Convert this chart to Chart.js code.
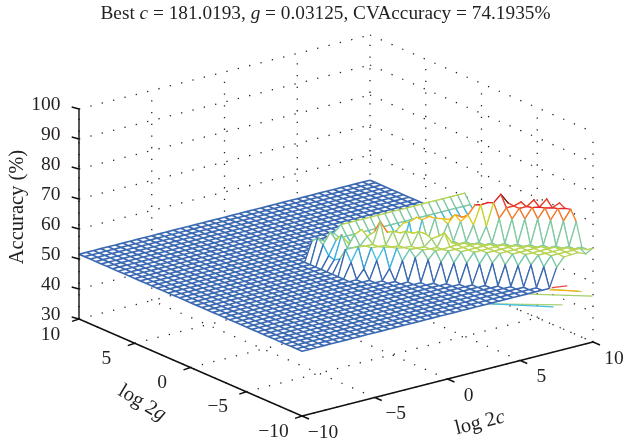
<!DOCTYPE html>
<html><head><meta charset="utf-8">
<script src="https://cdn.jsdelivr.net/npm/chart.js@4/dist/chart.umd.min.js"></script>
<style>html,body{margin:0;padding:0;background:#fff;overflow:hidden}canvas{display:block}</style>
</head><body><canvas id="c" width="624" height="443"></canvas>
<script>
// ---- axis ticks ----
const cTicks=[-10,-5,0,5,10];
const gTicks=[-10,-5,0,5,10];
const zTicks=[30,40,50,60,70,80,90,100];
const zLabelsText=["30","40","50","60","70","80","90","100"];
// ---- surface readings (accuracy %), one list per diagonal log2c+log2g, running along log2c ----
const floorLevel=51.6;
const plateauLevel=55.5;
const dM25=[56.5,54.5,57.5,55,57.8,59,58.5,58,57.9,58,57.9,58.4,58,57.9,58.4,57.9,58];
const dM20=[60,61,61,61.3,61.2,61,61,61,61,61,61,61,61,61,61,61,61,60.8];
const dM15=[56,60,60.8,60.8,60.8,60.8,60.8,60.8,60.8,61,61,61,61,61,61,61,61,61,61];
const dM10=[55,59,60,60.6,60.6,60.6,60.6,60.6,60.6,61,61,61,61,61,61,61,61,61,61,61];
const dM05=[55.5,62.7,62.9,62.5,67.7,64.6,64.8,64.9,62.7,64.9,61.1,61,61,61,61,61,61,61,61,61,60];
const d00=[58.3,60,59,64,63.5,63.5,63.5,63.5,63.5,63,61,61,61,61,61,61,61,61,61,61,61,61.3];
const d05=[59.8,62,59,58,57,57,57,57,57,57,59,60,60,60,60,60,60,60,60,60,60,60];
const d10=[58,58,58,58,56.5,56.5,56.5,56.5,56.5,60,60,60,60,60,60,60,60,60,60,60,60,60];
const d15=[57,58,56,56,56,56,62,65,66,66.7,65,66,65,64.7,67.6,67.6,67.8,68,67.8,67.7,67.7];
const d20=[57,58,56,56,56,56,64,66,66.5,66,67.5,67.5,71.1,72,70.5,70.5,71,71,71,71];
const d25=[58.8,58,56,56,56,56,60,62,63,65,66,70.3,71.3,74.19,70.5,70.5,70.5,70.5,70.5,71];
const d30=[70.7,71.2,72.1,72.6,71.5];
const rowG15=[61,61,61,61,61,61,61,61,61,61,61,61,61,61,61,61,61,61];
const rowG10=[58,58,58,58,58,58,58,58,58,58,58,58,58,58,58,58,58];
// stray edge segments at the surface's lower right: [c0,z0,c1,z1]
const strayRed=[7.2,51.6,8.2,50.9];
const strayOrange=[7.05,51,9,48.2];
const strayLime=[7.1,51.2,9.2,47.8];
const strayGreen=[5.67,51.3,9.93,45.4];
const strayTeal=[2.92,51.4,7.87,45];
const strayCyan=[3.06,51.3,7.25,45.1];
// colour ramp: accuracy → colour
const rampLevels=[51.6,53,55,57.5,58,60.4,60.8,64.9,65.2,67,67.6,70,71,73.5,74.2];
const rampColors=["#3c6ab2","#3c6ab2","#3fb0de","#50c4dc","#82c9a2","#82c9a2","#b6d455","#c4d52f","#fac21b","#f9b91d","#f47b28","#ef5b2a","#e2262a","#d8202a","#6e1a1c"];

// ---- projection ----
const ox=302,oy=416,cx=14.55,cy=-3.7,gx=-11.15,gy=-4.85,zs=-3;
const P=(c,g,z)=>({x:ox+(c+10)*cx+(g+10)*gx,y:oy+(c+10)*cy+(g+10)*gy+(z-30)*zs});
const BR={x:null,y:null};
const diagTable=[[-2.5,-0.5,dM25],[-2,-0.5,dM20],[-1.5,-0.5,dM15],[-1,-0.5,dM10],[-0.5,-0.5,dM05],[0,-0.5,d00],[0.5,-0.5,d05],[1,-0.5,d10],[1.5,0,d15],[2,0.5,d20],[2.5,1,d25]];
function Z(c,g){
  if(g>1.5||c<-0.5) return floorLevel;
  const d=c+g;
  if(d<-2.5) return floorLevel;
  if(g===1.5&&c>=1.5) return rowG15[(c-1.5)*2];
  if(g===1&&c>=2) return rowG10[(c-2)*2];
  if(d<=2.5){const t=diagTable[(d+2.5)*2];return t[2][(c-t[1])*2];}
  if(d===3&&c>=8) return d30[(c-8)*2];
  return plateauLevel;
}
function hex(h){return [1,3,5].map(i=>parseInt(h.substr(i,2),16));}
function colorOf(z){
  if(z<=rampLevels[0]) return rampColors[0];
  for(let i=1;i<rampLevels.length;i++){
    if(z<=rampLevels[i]){
      const t=(z-rampLevels[i-1])/(rampLevels[i]-rampLevels[i-1]),a=hex(rampColors[i-1]),b=hex(rampColors[i]);
      return `rgb(${a.map((v,k)=>Math.round(v+(b[k]-v)*t)).join(",")})`;
    }
  }
  return rampColors[rampColors.length-1];
}
const base={type:'scatter',showLine:true,pointRadius:0,pointHoverRadius:0,fill:false,tension:0,spanGaps:false,clip:false,borderCapStyle:'round',borderJoinStyle:'round'};
const datasets=[];
let ord=100000;
const add=o=>{datasets.push(Object.assign({},base,o,{order:ord--}));};

// background dotted box
const dots=[];
const seg=(a,b)=>{dots.push(a,b,BR);};
const hi=100,lo=30;
zTicks.forEach(z=>{seg(P(-10,10,z),P(10,10,z));seg(P(10,10,z),P(10,-10,z));});
cTicks.forEach(c=>{seg(P(c,10,lo),P(c,10,hi));seg(P(c,-10,lo),P(c,10,lo));});
gTicks.forEach(g=>{seg(P(10,g,lo),P(10,g,hi));seg(P(-10,g,lo),P(10,g,lo));});
add({data:dots,borderColor:'#222',borderWidth:1.3,borderDash:[1.3,10.4],borderCapStyle:'butt'});

// stray segments
[[strayGreen,"#a5d06a"],[strayTeal,"#a6d27c"],[strayCyan,"#45bfe0"],[strayLime,"#b7d565"],[strayOrange,"#f7b21f"],[strayRed,"#ee4a42"]].forEach(([s,col])=>{
  add({data:[P(s[0],-10,s[1]),P(s[2],-10,s[3])],borderColor:col,borderWidth:1.3});
});

// flat floor of the surface
const outline=[[-10,-10],[7,-10],[-0.5,-2.5],[-1,-2],[-1,2],[10,2],[10,10],[-10,10],[-10,-10]].map(p=>P(p[0],p[1],floorLevel));
const steps=[];for(let i=0;i<=40;i++)steps.push(-10+i*0.5);
const planeLines=[];
const flat=(c,g)=>Z(c,g)===floorLevel;
steps.forEach(c=>{for(let j=0;j<40;j++){const g=steps[j],g2=steps[j+1];if(flat(c,g)&&flat(c,g2)){planeLines.push(P(c,g,floorLevel),P(c,g2,floorLevel),BR);}}});
steps.forEach(g=>{for(let i=0;i<40;i++){const c=steps[i],c2=steps[i+1];if(flat(c,g)&&flat(c2,g)){planeLines.push(P(c,g,floorLevel),P(c2,g,floorLevel),BR);}}});
add({data:outline,borderColor:'rgba(0,0,0,0)',borderWidth:0,face:true});
add({data:planeLines,borderColor:rampColors[0],borderWidth:1.65,borderCapStyle:'butt'});

// raised quads, far to near
const quads=[];
for(let i=0;i<40;i++)for(let j=0;j<40;j++){
  const c=steps[i],c2=steps[i+1],g=steps[j],g2=steps[j+1];
  if(flat(c,g)&&flat(c2,g)&&flat(c,g2)&&flat(c2,g2)) continue;
  quads.push([c,c2,g,g2]);
}
quads.sort((a,b)=>(b[0]+b[2])-(a[0]+a[2]));
quads.forEach(([c,c2,g,g2])=>{
  const zA=Z(c,g),zB=Z(c2,g),zC=Z(c2,g2),zD=Z(c,g2);
  const cols=[colorOf(zA),colorOf(zB),colorOf(zD),colorOf(zA)];
  add({data:[P(c,g,zA),P(c2,g,zB),P(c2,g2,zC),P(c,g2,zD),P(c,g,zA)],face:true,borderWidth:1.3,borderColor:cols[0],
    segment:{borderColor:ctx=>cols[ctx.p0DataIndex]}});
});

// solid axes
const axisLines=[];
const Pz=z=>P(-10,10,z);
const addTick=(p,dx,dy)=>{axisLines.push(p,{x:p.x+dx,y:p.y+dy},BR);};
axisLines.push(Pz(lo),Pz(hi),BR,P(-10,10,lo),P(-10,-10,lo),BR,P(-10,-10,lo),P(10,-10,lo),BR);
zTicks.forEach(z=>addTick(Pz(z),-7.3,-2));
gTicks.forEach(g=>addTick(P(-10,g,lo),-7,2.4));
cTicks.forEach(c=>addTick(P(c,-10,lo),7,3));
add({data:axisLines,borderColor:'#111',borderWidth:1.4,borderCapStyle:'butt'});

const faces={id:'faces',beforeDatasetDraw(chart,args){
  const ds=chart.data.datasets[args.index];
  if(!ds.face) return;
  const pts=args.meta.data,ctx=chart.ctx;
  ctx.save();ctx.beginPath();
  pts.forEach((p,i)=>i?ctx.lineTo(p.x,p.y):ctx.moveTo(p.x,p.y));
  ctx.closePath();ctx.fillStyle='#fff';ctx.fill();ctx.restore();
}};
const serif='"Liberation Serif"';
function runs(ctx,parts,size){
  const fonts=parts.map(p=>`${p[1]?'italic ':''}${size}px ${serif}`);
  let w=0;parts.forEach((p,i)=>{ctx.font=fonts[i];w+=ctx.measureText(p[0]).width;});
  let x=-w/2;
  parts.forEach((p,i)=>{ctx.font=fonts[i];ctx.fillText(p[0],x,0);x+=ctx.measureText(p[0]).width;});
}
function label(ctx,parts,size,x,y,rot){
  ctx.save();ctx.translate(x,y);ctx.rotate(rot*Math.PI/180);ctx.textAlign='left';ctx.textBaseline='middle';runs(ctx,parts,size);ctx.restore();
}
const fmt=v=>v<0?'\u2212'+(-v):String(v);
const texts={id:'texts',afterDraw(chart){
  const ctx=chart.ctx;ctx.save();ctx.fillStyle='#231f20';
  label(ctx,[["Best "],["c",1],[" = 181.0193, "],["g",1],[" = 0.03125, CVAccuracy = 74.1935%"]],19.3,325.5,14,0);
  ctx.font=`19.5px ${serif}`;ctx.textBaseline='middle';
  ctx.textAlign='right';
  zTicks.forEach((z,i)=>{const p=Pz(z);ctx.fillText(zLabelsText[i],60.5,p.y-4);});
  ctx.textAlign='center';
  gTicks.forEach(g=>{const p=P(-10,g,lo);ctx.fillText(fmt(g),p.x-28.5,p.y+15.5);});
  cTicks.forEach(c=>{const p=P(c,-10,lo);ctx.fillText(fmt(c),p.x+21,p.y+16.5);});
  label(ctx,[["Accuracy (%)"]],20.5,17.5,207,-90);
  label(ctx,[["log 2"],["g",1]],20.5,142,403,31);
  label(ctx,[["log 2"],["c",1]],20.5,480,423,-14);
  ctx.restore();
}};
new Chart(document.getElementById('c'),{
  type:'scatter',
  data:{datasets},
  plugins:[faces,texts],
  options:{responsive:false,animation:false,events:[],
    layout:{padding:0},
    plugins:{legend:{display:false},tooltip:{enabled:false},title:{display:false}},
    scales:{x:{type:'linear',min:0,max:624,display:false},y:{type:'linear',min:0,max:443,reverse:true,display:false}}
  }
});
</script></body></html>
